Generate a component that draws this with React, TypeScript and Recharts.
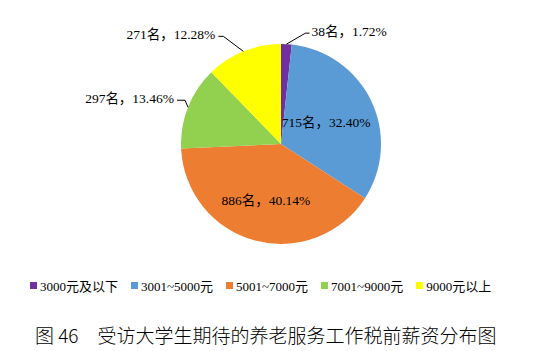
import { PieChart, Pie, Cell } from "recharts";

const categories = ["3000元及以下", "3001~5000元", "5001~7000元", "7001~9000元", "9000元以上"];
const counts = [38, 715, 886, 297, 271];
const percents = ["1.72", "32.40", "40.14", "13.46", "12.28"];
const colors = ["#7030A0", "#5B9BD5", "#ED7D31", "#92D050", "#FFFF00"];

const data = categories.map((name, i) => ({ name, value: counts[i] }));

const labelFont = "'Liberation Serif', 'Times New Roman', 'Noto Sans CJK SC', serif";

// how each data label is placed: inside at a fraction of the radius, or outside with a leader line
const labelPlacement = [
  { inside: false, dx: 19, dy: -11, tail: 4 },
  { inside: true, r: 0.5 },
  { inside: true, r: 0.58 },
  { inside: false, dx: -3, dy: -7, tail: -8 },
  { inside: false, dx: -20, dy: -15, tail: -5 },
];

const RADIAN = Math.PI / 180;

function renderLabel(props: any) {
  const { cx, cy, midAngle, outerRadius, index } = props;
  const text = `${counts[index]}名，${percents[index]}%`;
  const p: any = labelPlacement[index];
  const cos = Math.cos(-midAngle * RADIAN);
  const sin = Math.sin(-midAngle * RADIAN);
  if (p.inside) {
    const r = outerRadius * p.r;
    return (
      <text
        x={cx + r * cos}
        y={cy + r * sin}
        textAnchor="middle"
        dominantBaseline="central"
        fontSize={13.5}
        fontFamily={labelFont}
        fill="#000"
      >
        {text}
      </text>
    );
  }
  const ex = cx + outerRadius * cos;
  const ey = cy + outerRadius * sin;
  const mx = ex + p.dx;
  const my = ey + p.dy;
  const tx = mx + p.tail;
  const right = p.tail > 0;
  return (
    <g>
      <polyline
        points={`${ex},${ey} ${mx},${my} ${tx},${my}`}
        fill="none"
        stroke="#000"
        strokeWidth={1}
      />
      <text
        x={tx + (right ? 2 : -3)}
        y={my - 2}
        textAnchor={right ? "start" : "end"}
        dominantBaseline="central"
        fontSize={13.5}
        fontFamily={labelFont}
        fill="#000"
      >
        {text}
      </text>
    </g>
  );
}

export default function App() {
  return (
    <div
      style={{
        position: "absolute",
        left: 0,
        top: 0,
        width: 540,
        height: 351,
        background: "#fff",
      }}
    >
      <PieChart width={540} height={260}>
        <Pie
          data={data}
          dataKey="value"
          nameKey="name"
          cx={276}
          cy={139}
          outerRadius={100}
          startAngle={90}
          endAngle={-270}
          stroke="none"
          label={renderLabel}
          labelLine={false}
          isAnimationActive={false}
        >
          {data.map((d, i) => (
            <Cell key={d.name} fill={colors[i]} />
          ))}
        </Pie>
      </PieChart>

      <div
        style={{
          position: "absolute",
          left: 30,
          top: 276,
          display: "flex",
          alignItems: "center",
          fontFamily: labelFont,
          fontSize: 13,
          color: "#000",
          whiteSpace: "nowrap",
        }}
      >
        {categories.map((c, i) => (
          <div key={c} style={{ display: "flex", alignItems: "center", marginRight: 13 }}>
            <span
              style={{
                display: "inline-block",
                width: 7,
                height: 7,
                background: colors[i],
                marginRight: 3,
              }}
            />
            <span>{c}</span>
          </div>
        ))}
      </div>

      <div
        style={{
          position: "absolute",
          left: 35,
          top: 322,
          fontFamily: "'Noto Sans CJK SC', sans-serif",
          fontWeight: 300,
          fontSize: 19,
          color: "#000",
          whiteSpace: "pre",
          lineHeight: "26px",
        }}
      >
        图 46　受访大学生期待的养老服务工作税前薪资分布图
      </div>
    </div>
  );
}
